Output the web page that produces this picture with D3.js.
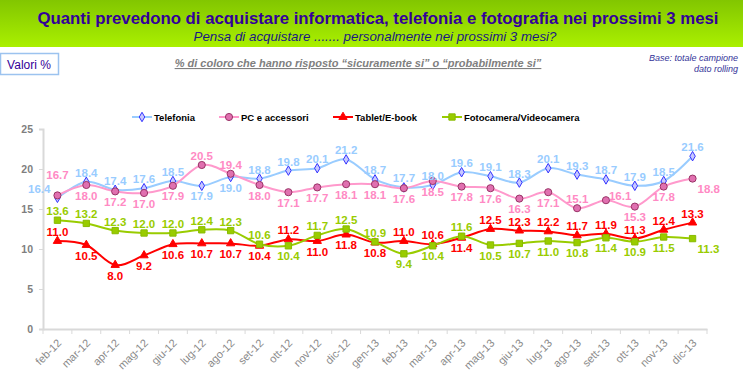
<!DOCTYPE html>
<html>
<head>
<meta charset="utf-8">
<script src="https://cdn.jsdelivr.net/npm/d3@7"></script>
<style>
body { margin: 0; background: #fff; }
svg { display: block; font-family: Arial, "Liberation Sans", sans-serif; }
</style>
</head>
<body>
<svg width="743" height="386"></svg>
<script>
// ------------------DATI------------------
// mesi dell'asse x
var mesi = ["feb-12", "mar-12", "apr-12", "mag-12", "giu-12", "lug-12", "ago-12", "set-12", "ott-12", "nov-12", "dic-12",
    "gen-13", "feb-13", "mar-13", "apr-13", "mag-13", "giu-13", "lug-13", "ago-13", "sett-13", "ott-13", "nov-13", "dic-13"];
// valori delle serie (%)
var telefonia = [16.4, 18.4, 17.4, 17.6, 18.5, 17.9, 19.0, 18.8, 19.8, 20.1, 21.2, 18.7, 17.7, 18.0, 19.6, 19.1, 18.3, 20.1, 19.3, 18.7, 17.9, 18.5, 21.6];
var pcAccessori = [16.7, 18.0, 17.2, 17.0, 17.9, 20.5, 19.4, 18.0, 17.1, 17.7, 18.1, 18.1, 17.6, 18.5, 17.8, 17.6, 16.3, 17.1, 15.1, 16.1, 15.3, 17.8, 18.8];
var tablet = [11.0, 10.5, 8.0, 9.2, 10.6, 10.7, 10.7, 10.4, 11.2, 11.0, 11.8, 10.8, 11.0, 10.6, 11.4, 12.5, 12.3, 12.2, 11.7, 11.9, 11.3, 12.4, 13.3];
var fotocamera = [13.6, 13.2, 12.3, 12.0, 12.0, 12.4, 12.3, 10.6, 10.4, 11.7, 12.5, 10.9, 9.4, 10.4, 11.6, 10.5, 10.7, 11.0, 10.8, 11.4, 10.9, 11.5, 11.3];
// etichette dell'asse y
var tickY = [0, 5, 10, 15, 20, 25];
var nomiSerie = ["Telefonia", "PC e accessori", "Tablet/E-book", "Fotocamera/Videocamera"];

// dove va l'etichetta di ogni punto: a = sopra, aa = molto sopra, b = sotto, l = sinistra, r = destra, br = sotto a destra
var posTelefonia = ["l", "a", "a", "a", "a", "b", "b", "a", "a", "a", "a", "a", "a", "a", "a", "a", "a", "a", "a", "a", "a", "a", "a"];
var posPc = ["aa", "b", "b", "b", "b", "a", "a", "b", "b", "b", "b", "b", "b", "b", "b", "b", "b", "b", "a", "r", "b", "b", "br"];
var posTablet = ["a", "b", "b", "b", "b", "b", "b", "b", "a", "b", "b", "b", "a", "a", "b", "a", "a", "a", "a", "a", "a", "a", "a"];
var posFoto = ["a", "a", "a", "a", "a", "a", "a", "a", "b", "a", "a", "a", "b", "b", "a", "b", "b", "b", "b", "b", "b", "b", "br"];

// ------------------FUNZIONI------------------
var svg = d3.select("svg");

var x = d3.scaleBand().domain(mesi).range([43, 707]).padding(0);
var y = d3.scaleLinear().domain([0, 25]).range([329, 129]);

function centroX(m) {
    return x(m) + x.bandwidth() / 2;
}

// fascia verde del titolo e testi sopra il grafico
function disegnaIntestazione() {
    let grad = svg.append("defs").append("linearGradient")
        .attr("id", "verde").attr("x1", 0).attr("y1", 0).attr("x2", 0).attr("y2", 1);
    grad.append("stop").attr("offset", "0%").attr("stop-color", "#82c600");
    grad.append("stop").attr("offset", "100%").attr("stop-color", "#aaf000");
    svg.append("rect").attr("x", 0).attr("y", 0).attr("width", 743).attr("height", 47).style("fill", "url(#verde)");

    svg.append("text").attr("x", 378).attr("y", 24)
        .attr("text-anchor", "middle")
        .attr("textLength", 681).attr("lengthAdjust", "spacingAndGlyphs")
        .style("font-size", "17px").style("font-weight", "bold").style("fill", "#330099")
        .text("Quanti prevedono di acquistare informatica, telefonia e fotografia nei prossimi 3 mesi");
    svg.append("text").attr("x", 375).attr("y", 41)
        .attr("text-anchor", "middle")
        .style("font-size", "13.3px").style("font-style", "italic").style("fill", "#1a1a80")
        .text("Pensa di acquistare ....... personalmente nei prossimi 3 mesi?");

    svg.append("rect").attr("x", 0.5).attr("y", 53.5).attr("width", 58).attr("height", 21)
        .style("fill", "#fff").style("stroke", "#9cc3ef").style("stroke-width", 1.5);
    svg.append("text").attr("x", 29).attr("y", 69).attr("text-anchor", "middle")
        .style("font-size", "12px").style("fill", "#330099").text("Valori %");

    svg.append("text").attr("x", 358).attr("y", 67).attr("text-anchor", "middle")
        .style("font-size", "11px").style("font-weight", "bold").style("font-style", "italic")
        .style("text-decoration", "underline").style("fill", "#808080")
        .text("% di coloro che hanno risposto \u201csicuramente si\u201d o \u201cprobabilmente si\u201d");

    svg.append("text").attr("x", 738).attr("y", 61).attr("text-anchor", "end")
        .style("font-size", "9px").style("font-style", "italic").style("fill", "#333399")
        .text("Base: totale campione");
    svg.append("text").attr("x", 738).attr("y", 72).attr("text-anchor", "end")
        .style("font-size", "9px").style("font-style", "italic").style("fill", "#333399")
        .text("dato rolling");
}

// assi
function disegnaAssi() {
    let assey = svg.append("g").attr("transform", "translate(43,0)")
        .call(d3.axisLeft(y).tickValues(tickY).tickSize(4).tickPadding(6));
    assey.select(".domain").style("stroke", "#d9d9d9").style("stroke-width", 2);
    assey.selectAll(".tick line").style("stroke", "#d9d9d9");
    assey.selectAll("text").style("font-size", "10.5px").style("font-weight", "bold")
        .style("fill", "#7f7f7f").style("font-family", "Arial, 'Liberation Sans', sans-serif");

    let assex = svg.append("g").attr("transform", "translate(0,329)")
        .call(d3.axisBottom(x).tickSize(0).tickPadding(0));
    assex.select(".domain").style("stroke", "#d9d9d9").style("stroke-width", 2);
    assex.selectAll("text")
        .attr("text-anchor", "end")
        .attr("dy", "0.35em")
        .attr("transform", "translate(2,12) rotate(-45)")
        .style("font-size", "11px").style("fill", "#8a8a8a")
        .style("font-family", "Arial, 'Liberation Sans', sans-serif");

    // tacche tra le categorie
    let confini = mesi.map(function (m) { return x(m); }).concat([x.range()[1]]);
    svg.append("g").selectAll("line").data(confini).enter().append("line")
        .attr("x1", function (d) { return d; }).attr("x2", function (d) { return d; })
        .attr("y1", 329).attr("y2", 334)
        .style("stroke", "#d9d9d9").style("stroke-width", 1);
}

// una serie: linea smussata e marcatori
function disegnaSerie(valori, stile) {
    let linea = d3.line()
        .x(function (d, i) { return centroX(mesi[i]); })
        .y(function (d) { return y(d); })
        .curve(d3.curveCardinal.tension(0));
    svg.append("path").datum(valori).attr("d", linea)
        .style("fill", "none").style("stroke", stile.linea).style("stroke-width", 2);

    let simbolo = d3.symbol().type(stile.simbolo).size(stile.taglia);
    svg.append("g").selectAll("path").data(valori).enter().append("path")
        .attr("d", simbolo)
        .attr("transform", function (d, i) { return "translate(" + centroX(mesi[i]) + "," + y(d) + ")"; })
        .style("fill", stile.riempimento).style("stroke", stile.bordo).style("stroke-width", 1);
}

// etichette dei valori
function disegnaEtichette(valori, posizioni, colore) {
    let formato = d3.format(".1f");
    svg.append("g").selectAll("text").data(valori).enter().append("text")
        .attr("x", function (d, i) {
            let p = posizioni[i];
            if (p == "l") return centroX(mesi[i]) - 7;
            if (p == "r") return centroX(mesi[i]) + 3;
            if (p == "br") return centroX(mesi[i]) + 5;
            return centroX(mesi[i]);
        })
        .attr("y", function (d, i) {
            let p = posizioni[i];
            if (p == "a") return y(d) - 5;
            if (p == "aa") return y(d) - 16;
            if (p == "l") return y(d) - 5;
            if (p == "r") return y(d);
            return y(d) + 14.5;
        })
        .attr("text-anchor", function (d, i) {
            let p = posizioni[i];
            if (p == "l") return "end";
            if (p == "r" || p == "br") return "start";
            return "middle";
        })
        .style("font-size", "11.5px").style("font-weight", "bold").style("fill", colore)
        .text(function (d) { return formato(d); });
}

// legenda in alto
function disegnaLegenda(stili) {
    let posX = [132, 219, 333, 442];
    let g = svg.append("g");
    nomiSerie.forEach(function (nome, i) {
        let s = stili[i];
        g.append("line").attr("x1", posX[i]).attr("x2", posX[i] + 20).attr("y1", 117).attr("y2", 117)
            .style("stroke", s.linea).style("stroke-width", 2);
        g.append("path").attr("d", d3.symbol().type(s.simbolo).size(s.taglia)())
            .attr("transform", "translate(" + (posX[i] + 10) + ",117)")
            .style("fill", s.riempimento).style("stroke", s.bordo);
        g.append("text").attr("x", posX[i] + 22).attr("y", 120.5)
            .style("font-size", "9.5px").style("font-weight", "bold").style("fill", "#000")
            .text(nome);
    });
}

// ------------------MAIN------------------
var stileTel = { linea: "#99ccff", simbolo: d3.symbolDiamond, taglia: 26, riempimento: "#c8c8ff", bordo: "#3333ff" };
var stilePc = { linea: "#ff99cc", simbolo: d3.symbolCircle, taglia: 40, riempimento: "#e070b0", bordo: "#993366" };
var stileTab = { linea: "#ff0000", simbolo: d3.symbolTriangle, taglia: 30, riempimento: "#ff0000", bordo: "#ff0000" };
var stileFoto = { linea: "#99cc00", simbolo: d3.symbolSquare, taglia: 40, riempimento: "#99cc00", bordo: "#88bb00" };

disegnaIntestazione();
disegnaAssi();
disegnaSerie(telefonia, stileTel);
disegnaSerie(pcAccessori, stilePc);
disegnaSerie(tablet, stileTab);
disegnaSerie(fotocamera, stileFoto);
disegnaEtichette(telefonia, posTelefonia, "#99ccff");
disegnaEtichette(pcAccessori, posPc, "#ff8ac4");
disegnaEtichette(tablet, posTablet, "#ff0000");
disegnaEtichette(fotocamera, posFoto, "#99cc00");
disegnaLegenda([stileTel, stilePc, stileTab, stileFoto]);
</script>
</body>
</html>
